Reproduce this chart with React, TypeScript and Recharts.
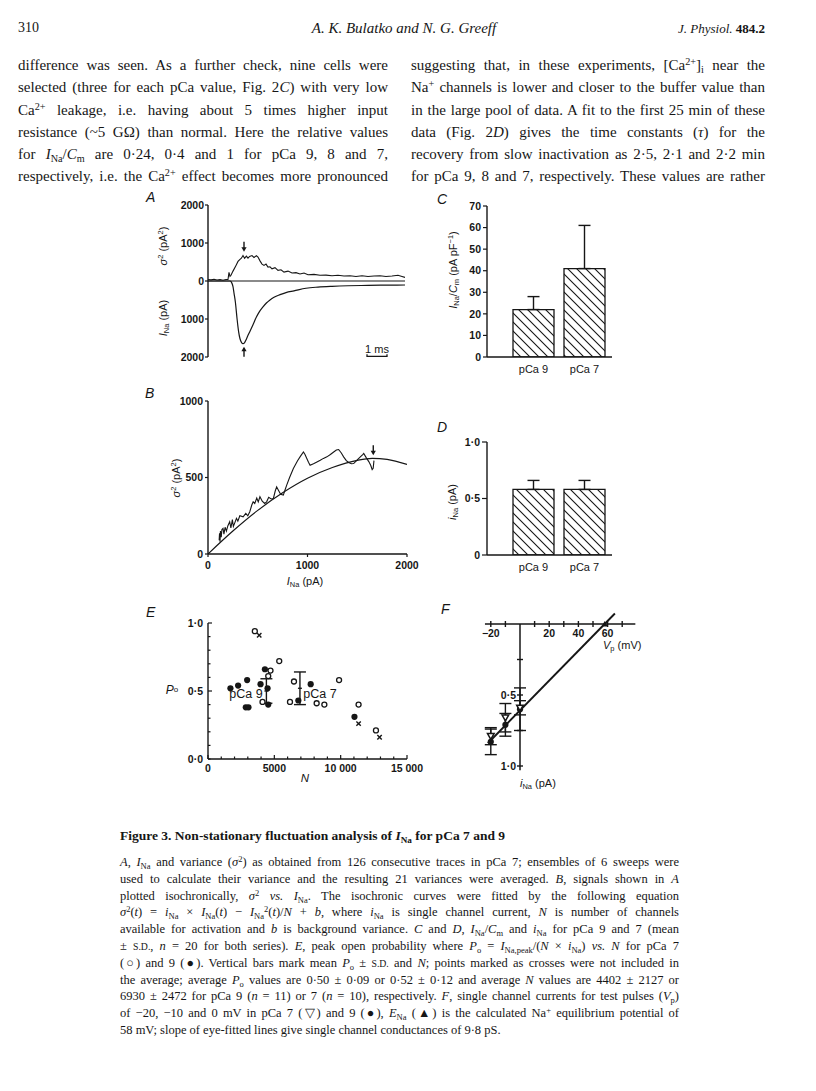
import React from 'react';
import { ComposedChart, Line, Scatter, Bar, XAxis, YAxis, ErrorBar, ReferenceLine } from 'recharts';

const INK = '#161616';
const SANS = '"Liberation Sans", Arial, Helvetica, sans-serif';
const SERIF = '"Liberation Serif", "Times New Roman", Times, serif';

// ---------- Panel A: variance and current vs time (ms) ----------
const aVarTime = [0, 0.15, 0.3, 0.45, 0.6, 0.75, 0.9, 1.0, 1.05, 1.1, 1.15, 1.25, 1.4, 1.5, 1.6, 1.67, 1.75, 1.83, 1.92, 2.0, 2.08, 2.2, 2.3, 2.42, 2.5, 2.6, 2.7, 2.8, 2.9, 3.0, 3.1, 3.2, 3.35, 3.5, 3.65, 3.8, 4.0, 4.2, 4.4, 4.6, 4.8, 5.0, 5.3, 5.6, 5.9, 6.2, 6.5, 6.8, 7.1, 7.4, 7.7, 8.0, 8.3, 8.6, 8.9, 9.2, 9.5, 9.7, 9.85];
const aVarValue = [40, 30, 45, 25, 35, 20, 40, 40, 230, 120, 150, 260, 410, 515, 570, 600, 670, 600, 655, 600, 645, 670, 620, 665, 630, 530, 445, 410, 445, 365, 375, 320, 350, 280, 295, 235, 260, 210, 220, 185, 210, 165, 175, 150, 155, 140, 150, 130, 140, 120, 140, 120, 130, 140, 120, 130, 150, 120, 95];
const aCurTime = [0, 1.1, 1.17, 1.25, 1.3, 1.37, 1.45, 1.53, 1.6, 1.68, 1.75, 1.83, 1.92, 2.0, 2.1, 2.25, 2.42, 2.58, 2.75, 2.92, 3.1, 3.3, 3.6, 3.9, 4.3, 4.9, 5.5, 6.2, 7.0, 8.0, 9.0, 9.85];
const aCurValue = [0, 0, -30, -150, -320, -560, -980, -1330, -1520, -1620, -1650, -1620, -1530, -1430, -1320, -1150, -950, -800, -680, -580, -500, -430, -360, -305, -260, -190, -160, -140, -125, -115, -108, -105];
const aYTicks = [-2000, -1000, 0, 1000, 2000];
const aArrowTime = [1.8, 1.8];
const aArrowValue = [770, -1730];
const aArrowDir = ['down', 'up'];
const aScaleTime = [7.95, 7.95, 8.95, 8.95];
const aScaleValue = [-1930, -1985, -1985, -1930];

// ---------- Panel B: variance vs mean current ----------
const bTraceI = [112, 116, 121, 125, 133, 140, 151, 160, 172, 185, 200, 218, 230, 245, 255, 270, 286, 300, 320, 353, 380, 400, 420, 440, 454, 470, 490, 505, 522, 545, 570, 589, 610, 635, 657, 675, 690, 705, 730, 757, 775, 791, 820, 858, 900, 930, 959, 975, 993, 1010, 1026, 1060, 1090, 1128, 1160, 1195, 1230, 1263, 1290, 1313, 1340, 1363, 1390, 1414, 1440, 1464, 1500, 1531, 1555, 1565, 1590, 1616, 1635, 1650, 1660, 1668];
const bTraceVar = [90, 135, 80, 150, 110, 160, 167, 130, 175, 150, 185, 211, 170, 225, 180, 205, 233, 215, 250, 243, 265, 250, 276, 320, 341, 330, 365, 340, 374, 345, 330, 341, 370, 360, 363, 410, 439, 420, 390, 385, 420, 450, 500, 559, 610, 640, 667, 650, 624, 600, 580, 590, 600, 613, 625, 635, 650, 667, 680, 683, 660, 635, 610, 598, 590, 591, 615, 635, 650, 657, 630, 604, 580, 552, 560, 610];
const bFitI = [0, 250, 500, 750, 1000, 1250, 1500, 1650, 1800, 2000];
const bFitVar = [0, 150, 285, 400, 495, 565, 612, 625, 618, 585];
const bArrowI = [1661];
const bArrowVar = [645];
const bXTicks = [0, 1000, 2000];
const bYTicks = [0, 500, 1000];

// ---------- Panel C and D: bars ----------
const cdCategories = ['pCa 9', 'pCa 7'];
const cValues = [22, 41];
const cSD = [6, 20];
const cYTicks = [0, 10, 20, 30, 40, 50, 60, 70];
const dValues = [0.58, 0.58];
const dSD = [0.08, 0.08];
const dYTicks = [0, 0.5, 1];

// ---------- Panel E: open probability vs N ----------
const ePca9N = [1690, 2270, 2950, 2850, 3050, 3960, 4290, 4490, 4540, 6810, 7740, 11040];
const ePca9Po = [0.52, 0.54, 0.58, 0.38, 0.38, 0.55, 0.66, 0.52, 0.40, 0.43, 0.55, 0.31];
const ePca7N = [3530, 4110, 4540, 4710, 5370, 6480, 6180, 8190, 8770, 9880, 11350, 12660];
const ePca7Po = [0.94, 0.42, 0.61, 0.65, 0.72, 0.57, 0.42, 0.41, 0.40, 0.58, 0.40, 0.21];
const eCrossN = [3860, 11350, 12930];
const eCrossPo = [0.91, 0.26, 0.16];
const eMeanN = [4402, 6930];
const eMeanPo = [0.50, 0.52];
const eMeanSD = [0.09, 0.12];
const eXTicks = [0, 1000, 2000, 3000, 4000, 5000, 6000, 7000, 8000, 9000, 10000, 11000, 12000, 13000, 14000, 15000];
const eYTicks = [0, 0.1, 0.2, 0.3, 0.4, 0.5, 0.6, 0.7, 0.8, 0.9, 1];

// ---------- Panel F: single channel current vs test potential ----------
const fVp = [-20, -10, 0];
const fPca7I = [0.79, 0.66, 0.59];
const fPca7SD = [0.06, 0.1, 0.05];
const fPca9I = [0.83, 0.71, 0.6];
const fPca9SD = [0.09, 0.08, 0.15];
const fFitV = [-22, 65];
const fFitI = [0.84, -0.074];
const fENaV = [58];
const fVTicks = [-20, -10, 10, 20, 30, 40, 50, 60, 70];
const fITicks = [0.25, 0.5, 0.75, 1];
const fVAxisExtent = [-24, 79];
const fIAxisExtent = [0, 1.03];

const zip = (xs: number[], ys: number[]) => xs.map((x, i) => ({ x, y: ys[i] }));
const dot = (v: number) => (v === 0 ? '0' : v.toFixed(1).replace('.', '·'));

// ---------- helpers ----------
type TickCfg = {
  side: 'left' | 'bottom';
  len: number;
  inward?: boolean;
  gap: number;
  fmt: (v: any) => string;
  size?: number;
  weight?: number;
  longAt?: (v: any) => boolean;
};
const makeTick = (c: TickCfg) => (p: any) => {
  const { x, y, payload } = p;
  const v = payload.value;
  const lab = c.fmt(v);
  const fs = c.size ?? 10.5;
  const len = c.longAt && c.longAt(v) ? c.len + 1.5 : c.len;
  if (c.side === 'left') {
    const d = c.inward ? len : -len;
    return (
      <g>
        {len > 0 && <line x1={x} x2={x + d} y1={y} y2={y} stroke={INK} strokeWidth={1.2} />}
        {lab !== '' && (
          <text x={x - c.gap} y={y} dy="0.36em" textAnchor="end" fontSize={fs} fontFamily={SANS} fontWeight={c.weight ?? 700} fill={INK}>
            {lab}
          </text>
        )}
      </g>
    );
  }
  const d = c.inward ? -len : len;
  return (
    <g>
      {len > 0 && <line x1={x} x2={x} y1={y} y2={y + d} stroke={INK} strokeWidth={1.2} />}
      {lab !== '' && (
        <text x={x} y={y + c.gap} dy="0.72em" textAnchor="middle" fontSize={fs} fontFamily={SANS} fontWeight={c.weight ?? 700} fill={INK}>
          {lab}
        </text>
      )}
    </g>
  );
};

const frame = (x0: number, y0: number, x1: number, y1: number, yw: number, xh: number, pad = 12) => ({
  style: { position: 'absolute' as const, left: x0 - yw - pad, top: y0 - pad },
  width: x1 - x0 + yw + 2 * pad,
  height: y1 - y0 + xh + 2 * pad,
  margin: { top: pad, right: pad, bottom: pad, left: pad },
});

const arrowShape = (p: any) => {
  const { cx, cy, payload } = p;
  const s = payload.dir === 'down' ? -1 : 1;
  return (
    <g>
      <line x1={cx} x2={cx} y1={cy + s * 2} y2={cy + s * 10} stroke={INK} strokeWidth={1.4} />
      <path d={`M${cx - 2.6},${cy + s * 4.5} L${cx},${cy} L${cx + 2.6},${cy + s * 4.5} Z`} fill={INK} />
    </g>
  );
};
const openCircle = (p: any) => <circle cx={p.cx} cy={p.cy} r={2.5} fill="#fff" stroke={INK} strokeWidth={1.3} />;
const filledCircle = (p: any) => <circle cx={p.cx} cy={p.cy} r={3.1} fill={INK} />;
const crossShape = (p: any) => (
  <g stroke={INK} strokeWidth={1.4}>
    <line x1={p.cx - 2.2} x2={p.cx + 2.2} y1={p.cy - 2.2} y2={p.cy + 2.2} />
    <line x1={p.cx - 2.2} x2={p.cx + 2.2} y1={p.cy + 2.2} y2={p.cy - 2.2} />
  </g>
);
const meanShape = (p: any) => <line x1={p.cx - 2} x2={p.cx + 2} y1={p.cy} y2={p.cy} stroke={INK} strokeWidth={1.3} />;
const downTriangle = (p: any) => (
  <path d={`M${p.cx - 3.3},${p.cy - 2.6} L${p.cx + 3.3},${p.cy - 2.6} L${p.cx},${p.cy + 3.2} Z`} fill="#fff" stroke={INK} strokeWidth={1.5} />
);
const upTriangle = (p: any) => <path d={`M${p.cx - 3},${p.cy + 2.4} L${p.cx + 3},${p.cy + 2.4} L${p.cx},${p.cy - 3} Z`} fill={INK} />;
const vTickShape = (p: any) => {
  const v = p.payload.x;
  const lab = v === -20 ? '−20' : v === 20 || v === 40 || v === 60 ? String(v) : '';
  return (
    <g>
      <line x1={p.cx} x2={p.cx} y1={p.cy - 3} y2={p.cy + 3} stroke={INK} strokeWidth={1.4} />
      {lab && (
        <text x={p.cx} y={p.cy + 9} dy="0.36em" textAnchor="middle" fontSize={10.5} fontFamily={SANS} fontWeight={700} fill={INK}>
          {lab}
        </text>
      )}
    </g>
  );
};
const iTickShape = (p: any) => {
  const v = p.payload.y;
  const lab = v === 0.5 ? '0·5' : v === 1 ? '1·0' : '';
  return (
    <g>
      <line x1={p.cx - 3} x2={p.cx + 3} y1={p.cy} y2={p.cy} stroke={INK} strokeWidth={1.4} />
      {lab && (
        <text x={p.cx - 4} y={p.cy} dy="0.36em" textAnchor="end" fontSize={10.5} fontFamily={SANS} fontWeight={700} fill={INK}>
          {lab}
        </text>
      )}
    </g>
  );
};

const hatch = (id: string) => (
  <defs>
    <pattern id={id} patternUnits="userSpaceOnUse" width={9} height={9}>
      <rect width={9} height={9} fill="#fff" />
      <path d="M-1,-1 L10,10 M-1,8 L1,10 M8,-1 L10,1" stroke={INK} strokeWidth={1.1} />
    </pattern>
  </defs>
);

const axisStroke = { stroke: INK, strokeWidth: 1.4 };

// ---------- text helpers ----------
const Sub = ({ children }: any) => <sub style={{ fontSize: '0.68em', verticalAlign: '-0.3em', lineHeight: 0 }}>{children}</sub>;
const Sup = ({ children }: any) => <sup style={{ fontSize: '0.68em', verticalAlign: '0.45em', lineHeight: 0 }}>{children}</sup>;
const SC = ({ children }: any) => <span style={{ fontSize: '0.78em' }}>{children}</span>;

const Row = ({ x, y, w, size, children, justify = true, style }: any) => (
  <div
    style={{
      position: 'absolute',
      left: x,
      top: y - 10,
      width: w,
      height: 20,
      lineHeight: '20px',
      fontSize: size,
      fontFamily: SERIF,
      whiteSpace: 'nowrap',
      textAlign: justify ? 'justify' : 'left',
      textAlignLast: justify ? 'justify' : 'left',
      color: INK,
      ...style,
    }}
  >
    {children}
  </div>
);

const Lbl = ({ x, y, children, size = 11, anchor = 'middle', rotate = false, italic = false, bold = false, font = SANS }: any) => (
  <div
    style={{
      position: 'absolute',
      left: x,
      top: y,
      transform: `translate(${anchor === 'middle' ? '-50%' : anchor === 'end' ? '-100%' : '0'}, -50%)${rotate ? ' rotate(-90deg)' : ''}`,
      fontFamily: font,
      fontSize: size,
      fontStyle: italic ? 'italic' : 'normal',
      fontWeight: bold ? 700 : 400,
      whiteSpace: 'nowrap',
      color: INK,
      lineHeight: 1,
    }}
  >
    {children}
  </div>
);

const bodyLeft = [
  <>difference was seen. As a further check, nine cells were</>,
  <>selected (three for each pCa value, Fig. 2<i>C</i>) with very low</>,
  <>Ca<Sup>2+</Sup> leakage, i.e. having about 5 times higher input</>,
  <>resistance (~5 GΩ) than normal. Here the relative values</>,
  <>for <i>I</i><Sub>Na</Sub>/<i>C</i><Sub>m</Sub> are 0·24, 0·4 and 1 for pCa 9, 8 and 7,</>,
  <>respectively, i.e. the Ca<Sup>2+</Sup> effect becomes more pronounced</>,
];
const bodyRight = [
  <>suggesting that, in these experiments, [Ca<Sup>2+</Sup>]<Sub>i</Sub> near the</>,
  <>Na<Sup>+</Sup> channels is lower and closer to the buffer value than</>,
  <>in the large pool of data. A fit to the first 25 min of these</>,
  <>data (Fig. 2<i>D</i>) gives the time constants (<i>τ</i>) for the</>,
  <>recovery from slow inactivation as 2·5, 2·1 and 2·2 min</>,
  <>for pCa 9, 8 and 7, respectively. These values are rather</>,
];
const bodyRowsY = [65, 87, 110, 132, 154, 176];

const captionLines = [
  <><i>A</i>, <i>I</i><Sub>Na</Sub> and variance (<i>σ</i><Sup>2</Sup>) as obtained from 126 consecutive traces in pCa 7; ensembles of 6 sweeps were</>,
  <>used to calculate their variance and the resulting 21 variances were averaged. <i>B</i>, signals shown in <i>A</i></>,
  <>plotted isochronically, <i>σ</i><Sup>2</Sup> <i>vs.</i> <i>I</i><Sub>Na</Sub>. The isochronic curves were fitted by the following equation</>,
  <><i>σ</i><Sup>2</Sup>(<i>t</i>) = <i>i</i><Sub>Na</Sub> × <i>I</i><Sub>Na</Sub>(<i>t</i>) − <i>I</i><Sub>Na</Sub><Sup>2</Sup>(<i>t</i>)/<i>N</i> + <i>b</i>, where <i>i</i><Sub>Na</Sub> is single channel current, <i>N</i> is number of channels</>,
  <>available for activation and <i>b</i> is background variance. <i>C</i> and <i>D</i>, <i>I</i><Sub>Na</Sub>/<i>C</i><Sub>m</Sub> and <i>i</i><Sub>Na</Sub> for pCa 9 and 7 (mean</>,
  <>± <SC>S.D.</SC>, <i>n</i> = 20 for both series). <i>E</i>, peak open probability where <i>P</i><Sub>o</Sub> = <i>I</i><Sub>Na,peak</Sub>/(<i>N</i> × <i>i</i><Sub>Na</Sub>) <i>vs.</i> <i>N</i> for pCa 7</>,
  <>(○) and 9 (●). Vertical bars mark mean <i>P</i><Sub>o</Sub> ± <SC>S.D.</SC> and <i>N</i>; points marked as crosses were not included in</>,
  <>the average; average <i>P</i><Sub>o</Sub> values are 0·50 ± 0·09 or 0·52 ± 0·12 and average <i>N</i> values are 4402 ± 2127 or</>,
  <>6930 ± 2472 for pCa 9 (<i>n</i> = 11) or 7 (<i>n</i> = 10), respectively. <i>F</i>, single channel currents for test pulses (<i>V</i><Sub>p</Sub>)</>,
  <>of −20, −10 and 0 mV in pCa 7 (▽) and 9 (●), <i>E</i><Sub>Na</Sub> (▲) is the calculated Na<Sup>+</Sup> equilibrium potential of</>,
  <>58 mV; slope of eye-fitted lines give single channel conductances of 9·8 pS.</>,
];

export default function App() {
  const aVar = zip(aVarTime, aVarValue);
  const aCur = zip(aCurTime, aCurValue);
  const aArrows = aArrowTime.map((x, i) => ({ x, y: aArrowValue[i], dir: aArrowDir[i] }));
  const aScale = zip(aScaleTime, aScaleValue);
  const bTrace = zip(bTraceI, bTraceVar);
  const bFit = zip(bFitI, bFitVar);
  const bArrow = bArrowI.map((x, i) => ({ x, y: bArrowVar[i], dir: 'down' }));
  const cData = cdCategories.map((x, i) => ({ x, y: cValues[i], e: [0, cSD[i]] }));
  const dData = cdCategories.map((x, i) => ({ x, y: dValues[i], e: [0, dSD[i]] }));
  const e9 = zip(ePca9N, ePca9Po);
  const e7 = zip(ePca7N, ePca7Po);
  const eX = zip(eCrossN, eCrossPo);
  const eMean = eMeanN.map((x, i) => ({ x, y: eMeanPo[i], e: eMeanSD[i] }));
  const f7 = fVp.map((x, i) => ({ x, y: fPca7I[i], e: fPca7SD[i] }));
  const f9 = fVp.map((x, i) => ({ x, y: fPca9I[i], e: fPca9SD[i] }));
  const fFit = zip(fFitV, fFitI);
  const fENa = fENaV.map((x) => ({ x, y: 0 }));
  const fVT = fVTicks.map((x) => ({ x, y: 0 }));
  const fIT = fITicks.map((y) => ({ x: 0, y }));
  const fHAxis = fVAxisExtent.map((x) => ({ x, y: 0 }));
  const fVAxis = fIAxisExtent.map((y) => ({ x: 0, y }));

  const fA = frame(208, 205, 405, 357, 45, 0);
  const fB = frame(208, 401, 407, 554, 45, 25);
  const fC = frame(487, 206, 612, 357, 45, 22);
  const fD = frame(487, 442, 612, 555, 45, 22);
  const fE = frame(208, 623, 407, 759, 45, 22, 24);

  // panel F frame: V=0 at x=520 (1.46 px/mV), I=0 at y=624 (142 px per pA)
  const fLeft = 470, fTop = 600, fW = 180, fH = 190;
  const vMin = (fLeft - 520) / 1.46, vMax = vMin + fW / 1.46;
  const iMin = (fTop - 624) / 142, iMax = iMin + fH / 142;

  return (
    <div style={{ position: 'absolute', left: 0, top: 0, width: 816, height: 1091, background: '#fff', overflow: 'hidden' }}>
      {/* header */}
      <Row x={18} y={28} w={60} size={14} justify={false}>310</Row>
      <Lbl x={404} y={28} size={15} italic font={SERIF}>A. K. Bulatko and N. G. Greeff</Lbl>
      <Lbl x={765} y={28} size={13} anchor="end" font={SERIF}>
        <i>J. Physiol.</i> <b>484.2</b>
      </Lbl>

      {bodyLeft.map((l, i) => (
        <Row key={'l' + i} x={18} y={bodyRowsY[i]} w={370} size={15}>{l}</Row>
      ))}
      {bodyRight.map((l, i) => (
        <Row key={'r' + i} x={411} y={bodyRowsY[i]} w={354} size={15}>{l}</Row>
      ))}

      {/* Panel A */}
      <div style={fA.style}>
        <ComposedChart width={fA.width} height={fA.height} margin={fA.margin}>
          <XAxis type="number" dataKey="x" domain={[0, 9.85]} allowDataOverflow height={0} axisLine={false} tick={false} tickLine={false} />
          <YAxis
            type="number"
            dataKey="y"
            domain={[-2000, 2000]}
            allowDataOverflow
            ticks={aYTicks}
            interval={0}
            width={45}
            tickSize={0}
            tickMargin={0}
            tickLine={false}
            axisLine={axisStroke}
            tick={makeTick({ side: 'left', len: 3, gap: 4, fmt: (v) => String(Math.abs(v)) })}
          />
          <ReferenceLine y={0} stroke={INK} strokeWidth={1.1} />
          <Line data={aCur} dataKey="y" type="monotone" stroke={INK} strokeWidth={1.2} dot={false} isAnimationActive={false} />
          <Line data={aVar} dataKey="y" type="linear" stroke={INK} strokeWidth={1.1} dot={false} isAnimationActive={false} />
          <Line data={aScale} dataKey="y" type="linear" stroke={INK} strokeWidth={1.3} dot={false} isAnimationActive={false} />
          <Scatter data={aArrows} shape={arrowShape} isAnimationActive={false} />
        </ComposedChart>
      </div>
      <Lbl x={146} y={197} size={14} italic anchor="start">A</Lbl>
      <Lbl x={163} y={246} size={11} rotate>
        <i>σ</i><Sup>2</Sup> (pA<Sup>2</Sup>)
      </Lbl>
      <Lbl x={163} y={318} size={11} rotate>
        <i>I</i><Sub>Na</Sub> (pA)
      </Lbl>
      <Lbl x={377} y={349} size={11}>1 ms</Lbl>

      {/* Panel B */}
      <div style={fB.style}>
        <ComposedChart width={fB.width} height={fB.height} margin={fB.margin}>
          <XAxis
            type="number"
            dataKey="x"
            domain={[0, 2000]}
            allowDataOverflow
            ticks={bXTicks}
            interval={0}
            height={25}
            tickSize={0}
            tickMargin={0}
            tickLine={false}
            axisLine={axisStroke}
            tick={makeTick({ side: 'bottom', len: 3, gap: 7, fmt: (v) => String(v) })}
          />
          <YAxis
            type="number"
            dataKey="y"
            domain={[0, 1000]}
            allowDataOverflow
            ticks={bYTicks}
            interval={0}
            width={45}
            tickSize={0}
            tickMargin={0}
            tickLine={false}
            axisLine={axisStroke}
            tick={makeTick({ side: 'left', len: 3, gap: 5, fmt: (v) => String(v) })}
          />
          <Line data={bFit} dataKey="y" type="monotone" stroke={INK} strokeWidth={1.2} dot={false} isAnimationActive={false} />
          <Line data={bTrace} dataKey="y" type="linear" stroke={INK} strokeWidth={1.1} dot={false} isAnimationActive={false} />
          <Scatter data={bArrow} shape={arrowShape} isAnimationActive={false} />
        </ComposedChart>
      </div>
      <Lbl x={145} y={393} size={14} italic anchor="start">B</Lbl>
      <Lbl x={176} y={478} size={11} rotate>
        <i>σ</i><Sup>2</Sup> (pA<Sup>2</Sup>)
      </Lbl>
      <Lbl x={305} y={581} size={11}>
        <i>I</i><Sub>Na</Sub> (pA)
      </Lbl>

      {/* Panel C */}
      <div style={fC.style}>
        <ComposedChart width={fC.width} height={fC.height} margin={fC.margin} data={cData}>
          {hatch('hatchC')}
          <XAxis
            type="category"
            dataKey="x"
            padding={{ left: 21, right: 2 }}
            height={22}
            interval={0}
            tickSize={0}
            tickMargin={0}
            tickLine={false}
            axisLine={axisStroke}
            tick={makeTick({ side: 'bottom', len: 0, gap: 8, fmt: (v) => String(v), weight: 400, size: 11 })}
          />
          <YAxis
            type="number"
            domain={[0, 70]}
            allowDataOverflow
            ticks={cYTicks}
            interval={0}
            width={45}
            tickSize={0}
            tickMargin={0}
            tickLine={false}
            axisLine={axisStroke}
            tick={makeTick({ side: 'left', len: 4, gap: 6, fmt: (v) => String(v) })}
          />
          <Bar dataKey="y" barSize={41} fill="url(#hatchC)" stroke={INK} strokeWidth={1.3} isAnimationActive={false}>
            <ErrorBar dataKey="e" width={6} stroke={INK} strokeWidth={1.4} direction="y" />
          </Bar>
        </ComposedChart>
      </div>
      <Lbl x={437} y={199} size={14} italic anchor="start">C</Lbl>
      <Lbl x={453} y={270} size={11} rotate>
        <i>I</i><Sub>Na</Sub>/<i>C</i><Sub>m</Sub> (pA pF<Sup>−1</Sup>)
      </Lbl>

      {/* Panel D */}
      <div style={fD.style}>
        <ComposedChart width={fD.width} height={fD.height} margin={fD.margin} data={dData}>
          {hatch('hatchD')}
          <XAxis
            type="category"
            dataKey="x"
            padding={{ left: 21, right: 2 }}
            height={22}
            interval={0}
            tickSize={0}
            tickMargin={0}
            tickLine={false}
            axisLine={axisStroke}
            tick={makeTick({ side: 'bottom', len: 0, gap: 8, fmt: (v) => String(v), weight: 400, size: 11 })}
          />
          <YAxis
            type="number"
            domain={[0, 1]}
            allowDataOverflow
            ticks={dYTicks}
            interval={0}
            width={45}
            tickSize={0}
            tickMargin={0}
            tickLine={false}
            axisLine={axisStroke}
            tick={makeTick({ side: 'left', len: 5, gap: 7, fmt: dot })}
          />
          <Bar dataKey="y" barSize={41} fill="url(#hatchD)" stroke={INK} strokeWidth={1.3} isAnimationActive={false}>
            <ErrorBar dataKey="e" width={6} stroke={INK} strokeWidth={1.4} direction="y" />
          </Bar>
        </ComposedChart>
      </div>
      <Lbl x={437} y={427} size={14} italic anchor="start">D</Lbl>
      <Lbl x={452} y={502} size={11} rotate>
        <i>i</i><Sub>Na</Sub> (pA)
      </Lbl>

      {/* Panel E */}
      <div style={fE.style}>
        <ComposedChart width={fE.width} height={fE.height} margin={fE.margin}>
          <XAxis
            type="number"
            dataKey="x"
            domain={[0, 15000]}
            allowDataOverflow
            ticks={eXTicks}
            interval={0}
            height={22}
            tickSize={0}
            tickMargin={0}
            tickLine={false}
            axisLine={axisStroke}
            tick={makeTick({
              side: 'bottom',
              len: 2.5,
              inward: true,
              gap: 5,
              fmt: (v) => (v === 0 ? '0' : v === 5000 ? '5000' : v === 10000 ? '10 000' : v === 15000 ? '15 000' : ''),
              longAt: (v) => v % 5000 === 0,
            })}
          />
          <YAxis
            type="number"
            dataKey="y"
            domain={[0, 1]}
            allowDataOverflow
            ticks={eYTicks}
            interval={0}
            width={45}
            tickSize={0}
            tickMargin={0}
            tickLine={false}
            axisLine={axisStroke}
            tick={makeTick({
              side: 'left',
              len: 2.5,
              inward: true,
              gap: 5,
              fmt: (v) => (v === 0 ? '0·0' : v === 0.5 ? '0·5' : v === 1 ? '1·0' : ''),
              longAt: (v) => v === 0.5 || v === 1,
            })}
          />
          <Scatter data={eMean} shape={meanShape} isAnimationActive={false}>
            <ErrorBar dataKey="e" width={6} stroke={INK} strokeWidth={1.4} direction="y" />
          </Scatter>
          <Scatter data={e7} shape={openCircle} isAnimationActive={false} />
          <Scatter data={e9} shape={filledCircle} isAnimationActive={false} />
          <Scatter data={eX} shape={crossShape} isAnimationActive={false} />
        </ComposedChart>
      </div>
      <Lbl x={146} y={612} size={14} italic anchor="start">E</Lbl>
      <Lbl x={172} y={690} size={12}>
        <i>P</i><span style={{ fontSize: 8, verticalAlign: '0.3em' }}>o</span>
      </Lbl>
      <Lbl x={246} y={694} size={12.5}>pCa 9</Lbl>
      <Lbl x={320} y={694} size={12.5}>pCa 7</Lbl>
      <Lbl x={305} y={779} size={11.5} italic>N</Lbl>

      {/* Panel F */}
      <div style={{ position: 'absolute', left: fLeft, top: fTop }}>
        <ComposedChart width={fW} height={fH} margin={{ top: 0, right: 0, bottom: 0, left: 0 }}>
          <XAxis type="number" dataKey="x" domain={[vMin, vMax]} allowDataOverflow height={0} axisLine={false} tick={false} tickLine={false} />
          <YAxis type="number" dataKey="y" domain={[iMin, iMax]} allowDataOverflow reversed width={0} axisLine={false} tick={false} tickLine={false} />
          <Line data={fHAxis} dataKey="y" type="linear" stroke={INK} strokeWidth={1.5} dot={false} isAnimationActive={false} />
          <Line data={fVAxis} dataKey="y" type="linear" stroke={INK} strokeWidth={1.5} dot={false} isAnimationActive={false} />
          <Line data={fFit} dataKey="y" type="linear" stroke={INK} strokeWidth={1.9} dot={false} isAnimationActive={false} />
          <Scatter data={fVT} shape={vTickShape} isAnimationActive={false} />
          <Scatter data={fIT} shape={iTickShape} isAnimationActive={false} />
          <Scatter data={f9} shape={filledCircle} isAnimationActive={false}>
            <ErrorBar dataKey="e" width={6} stroke={INK} strokeWidth={1.4} direction="y" />
          </Scatter>
          <Scatter data={f7} shape={downTriangle} isAnimationActive={false}>
            <ErrorBar dataKey="e" width={6} stroke={INK} strokeWidth={1.4} direction="y" />
          </Scatter>
          <Scatter data={fENa} shape={upTriangle} isAnimationActive={false} />
        </ComposedChart>
      </div>
      <Lbl x={441} y={609} size={14} italic anchor="start">F</Lbl>
      <Lbl x={603} y={645} size={11} anchor="start">
        <i>V</i><Sub>p</Sub> (mV)
      </Lbl>
      <Lbl x={520} y={783} size={11} anchor="start">
        <i>i</i><Sub>Na</Sub> (pA)
      </Lbl>

      {/* caption */}
      <Row x={120} y={836} w={560} size={13.5} justify={false} style={{ fontWeight: 700 }}>
        Figure 3. Non-stationary fluctuation analysis of <i>I</i><Sub>Na</Sub> for pCa 7 and 9
      </Row>
      {captionLines.map((l, i) => (
        <Row key={'c' + i} x={120} y={862 + i * 16.8} w={559} size={12.5} justify={i < captionLines.length - 1}>
          {l}
        </Row>
      ))}
    </div>
  );
}
